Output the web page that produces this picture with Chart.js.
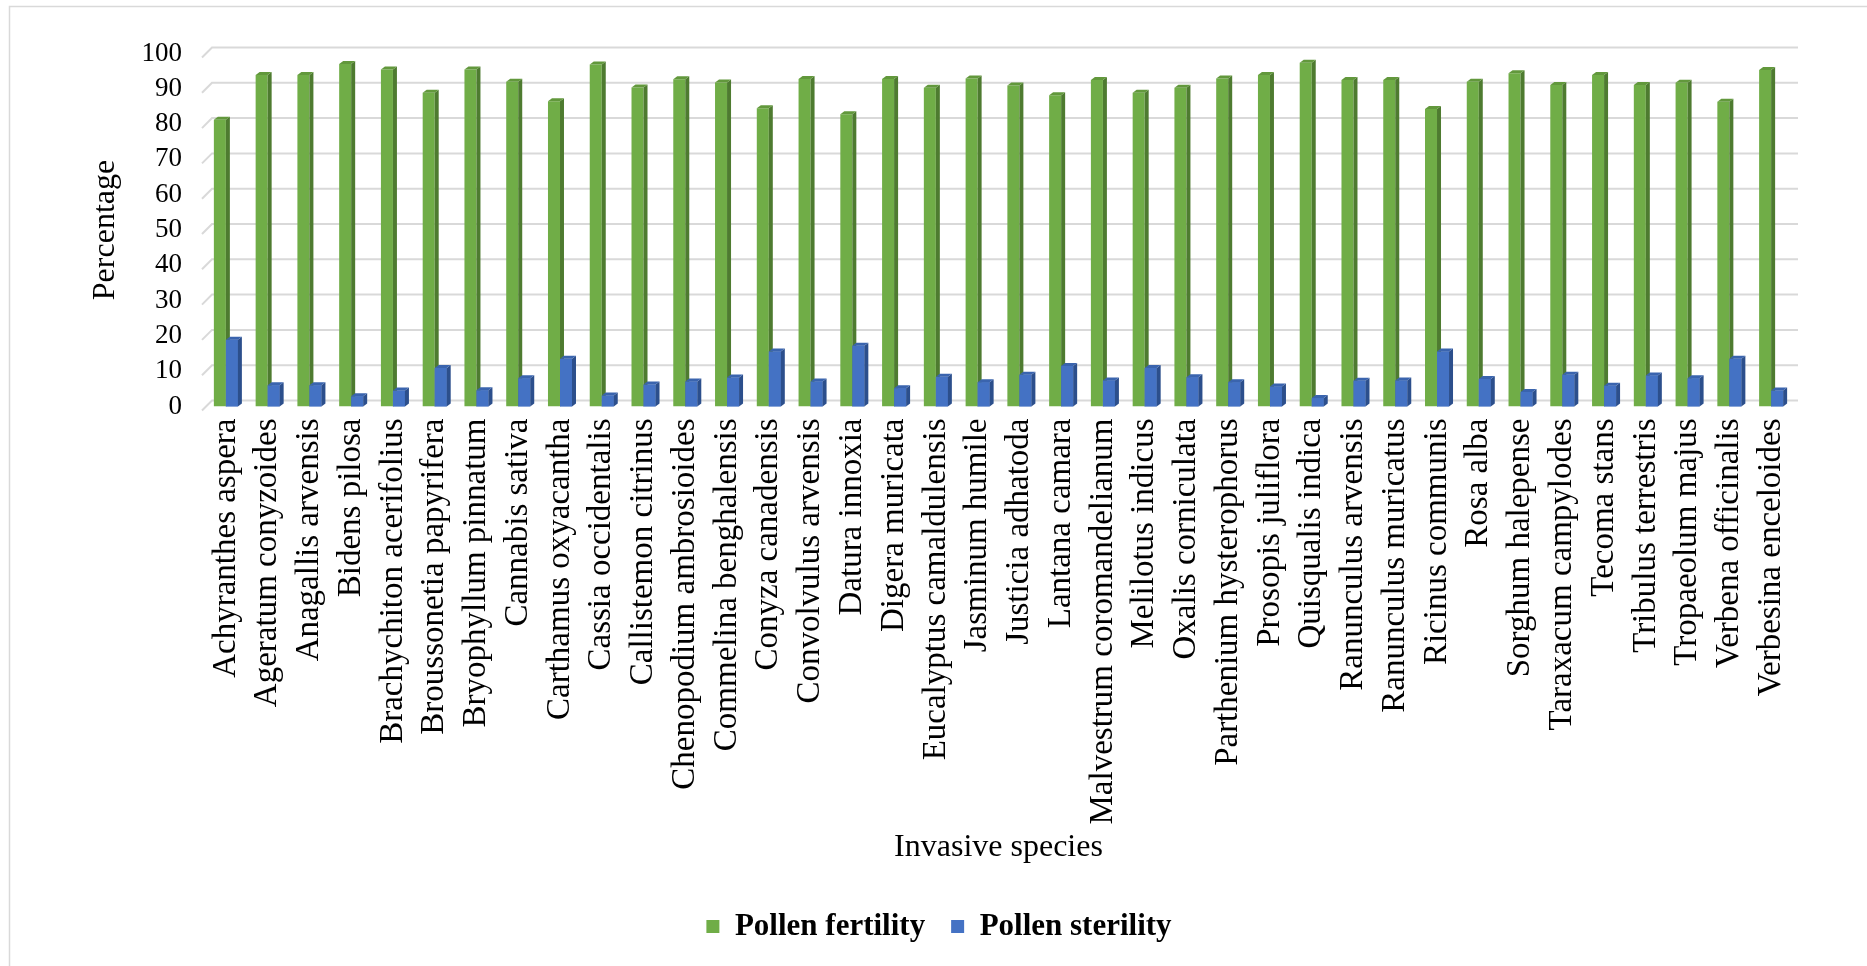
<!DOCTYPE html>
<html>
<head>
<meta charset="utf-8">
<script src="https://cdn.jsdelivr.net/npm/chart.js@4.4.1/dist/chart.umd.min.js"></script>
<style>
  html, body { margin: 0; padding: 0; background: #fff; }
  #wrap { width: 1867px; height: 966px; }
</style>
</head>
<body>
<div id="wrap"><canvas id="myChart"></canvas></div>
<script>
var species = ["Achyranthes aspera", "Ageratum conyzoides", "Anagallis arvensis", "Bidens pilosa",
    "Brachychiton acerifolius", "Broussonetia papyrifera", "Bryophyllum pinnatum", "Cannabis sativa",
    "Carthamus oxyacantha", "Cassia occidentalis", "Callistemon citrinus", "Chenopodium ambrosioides",
    "Commelina benghalensis", "Conyza canadensis", "Convolvulus arvensis", "Datura innoxia",
    "Digera muricata", "Eucalyptus camaldulensis", "Jasminum humile", "Justicia adhatoda",
    "Lantana camara", "Malvestrum coromandelianum", "Melilotus indicus", "Oxalis corniculata",
    "Parthenium hysterophorus", "Prosopis juliflora", "Quisqualis indica", "Ranunculus arvensis",
    "Ranunculus muricatus", "Ricinus communis", "Rosa alba", "Sorghum halepense",
    "Taraxacum campylodes", "Tecoma stans", "Tribulus terrestris", "Tropaeolum majus",
    "Verbena officinalis", "Verbesina enceloides"];

var fertility = [81.2, 93.9, 93.9, 97.0, 95.5, 88.9, 95.5, 92.0, 86.5, 96.9, 90.4, 92.7,
    91.8, 84.5, 92.8, 82.8, 92.8, 90.3, 92.9, 90.9, 88.2, 92.5, 88.9, 90.3,
    92.9, 93.9, 97.4, 92.5, 92.5, 84.3, 92.0, 94.4, 91.1, 93.9, 91.1, 91.7, 86.3, 95.3];

var sterility = [18.9, 6.0, 6.0, 2.9, 4.5, 10.9, 4.6, 8.0, 13.5, 3.1, 6.2, 7.1,
    8.2, 15.6, 7.1, 17.2, 5.2, 8.4, 6.9, 9.0, 11.5, 7.4, 10.9, 8.3,
    6.9, 5.7, 2.4, 7.3, 7.4, 15.6, 7.8, 4.1, 9.0, 5.9, 8.8, 8.0, 13.5, 4.5];

var yTicks = [0, 10, 20, 30, 40, 50, 60, 70, 80, 90, 100];

// face colours for the fake 3D columns: [front, side, top]
var greenFaces = ['#70AD47', '#4E7B30', '#62983C'];
var blueFaces = ['#4472C4', '#2C4F8C', '#3A64AE'];
var depthX = 4, depthY = 3;

function drawFaces(ctx, bar, side, top) {
    var p = bar.getProps(['x', 'y', 'base', 'width'], true);
    var l = p.x - p.width / 2, r = p.x + p.width / 2;
    ctx.fillStyle = side;
    ctx.beginPath();
    ctx.moveTo(r, p.y);
    ctx.lineTo(r + depthX, p.y - depthY);
    ctx.lineTo(r + depthX, p.base - depthY);
    ctx.lineTo(r, p.base);
    ctx.closePath();
    ctx.fill();
    ctx.fillStyle = top;
    ctx.beginPath();
    ctx.moveTo(l, p.y);
    ctx.lineTo(l + depthX, p.y - depthY);
    ctx.lineTo(r + depthX, p.y - depthY);
    ctx.lineTo(r, p.y);
    ctx.closePath();
    ctx.fill();
}

var frame = {
    id: 'frame',
    beforeDraw: function (chart) {
        var ctx = chart.ctx;
        ctx.save();
        ctx.fillStyle = '#fff';
        ctx.fillRect(0, 0, chart.width, chart.height);
        ctx.strokeStyle = '#D9D9D9';
        ctx.lineWidth = 1.5;
        ctx.beginPath();
        ctx.moveTo(9.5, chart.height);
        ctx.lineTo(9.5, 6.5);
        ctx.lineTo(chart.width, 6.5);
        ctx.stroke();
        ctx.restore();
    }
};

// back-wall gridlines with the little floor stub on the left
var wall = {
    id: 'wall',
    beforeDatasetsDraw: function (chart) {
        var ctx = chart.ctx, ys = chart.scales.y, area = chart.chartArea;
        ctx.save();
        ctx.strokeStyle = '#D9D9D9';
        ctx.lineWidth = 2;
        yTicks.forEach(function (v) {
            var y = ys.getPixelForValue(v);
            ctx.beginPath();
            ctx.moveTo(area.left - 3, y + 4);
            ctx.lineTo(area.left + 7, y - 6);
            ctx.lineTo(area.right + 6, y - 6);
            ctx.stroke();
        });
        ctx.restore();
    }
};

var columns3d = {
    id: 'columns3d',
    afterDatasetsDraw: function (chart) {
        var ctx = chart.ctx;
        var g = chart.getDatasetMeta(0).data, b = chart.getDatasetMeta(1).data;
        ctx.save();
        for (var i = 0; i < g.length; i++) {
            drawFaces(ctx, g[i], greenFaces[1], greenFaces[2]);
            b[i].draw(ctx);
            drawFaces(ctx, b[i], blueFaces[1], blueFaces[2]);
        }
        ctx.restore();
    }
};

Chart.defaults.font.family = '"Liberation Serif", "Times New Roman", serif';
Chart.defaults.color = '#000';

var ctx = document.getElementById("myChart").getContext('2d');
var myChart = new Chart(ctx, {
    type: 'bar',
    data: {
        labels: species,
        datasets: [{
            label: 'Pollen fertility',
            data: fertility,
            backgroundColor: greenFaces[0],
            borderWidth: 0
        }, {
            label: 'Pollen sterility',
            data: sterility,
            backgroundColor: blueFaces[0],
            borderWidth: 0
        }]
    },
    plugins: [frame, wall, columns3d],
    options: {
        responsive: true,
        maintainAspectRatio: false,
        animation: false,
        devicePixelRatio: 1,
        datasets: {
            bar: { categoryPercentage: 0.575, barPercentage: 1 }
        },
        layout: {
            padding: { top: 53.5, left: 86, right: 75, bottom: 14 }
        },
        scales: {
            x: {
                grid: { display: false, drawTicks: false },
                border: { display: false },
                // long rotated names would otherwise be capped at half the canvas
                afterFit: function (scale) { scale.height = 478.5; },
                ticks: {
                    font: { size: 33 },
                    minRotation: 90,
                    maxRotation: 90,
                    autoSkip: false,
                    padding: 12
                },
                title: {
                    display: true,
                    text: 'Invasive species',
                    font: { size: 32 },
                    padding: { top: 0, bottom: 18 }
                }
            },
            y: {
                min: 0,
                max: 100,
                grid: { display: false, drawTicks: false },
                border: { display: false },
                afterFit: function (scale) { scale.width = 119; },
                afterBuildTicks: function (scale) {
                    scale.ticks = yTicks.map(function (v) { return { value: v }; });
                },
                ticks: {
                    font: { size: 27 },
                    padding: 23,
                    autoSkip: false
                },
                title: {
                    display: true,
                    text: 'Percentage',
                    font: { size: 32 },
                    padding: { top: 0, bottom: 10 }
                }
            }
        },
        plugins: {
            legend: {
                position: 'bottom',
                labels: {
                    font: { size: 31, weight: 'bold' },
                    boxWidth: 13,
                    boxHeight: 13,
                    padding: 26
                }
            },
            tooltip: { enabled: false }
        }
    }
});
</script>
</body>
</html>
